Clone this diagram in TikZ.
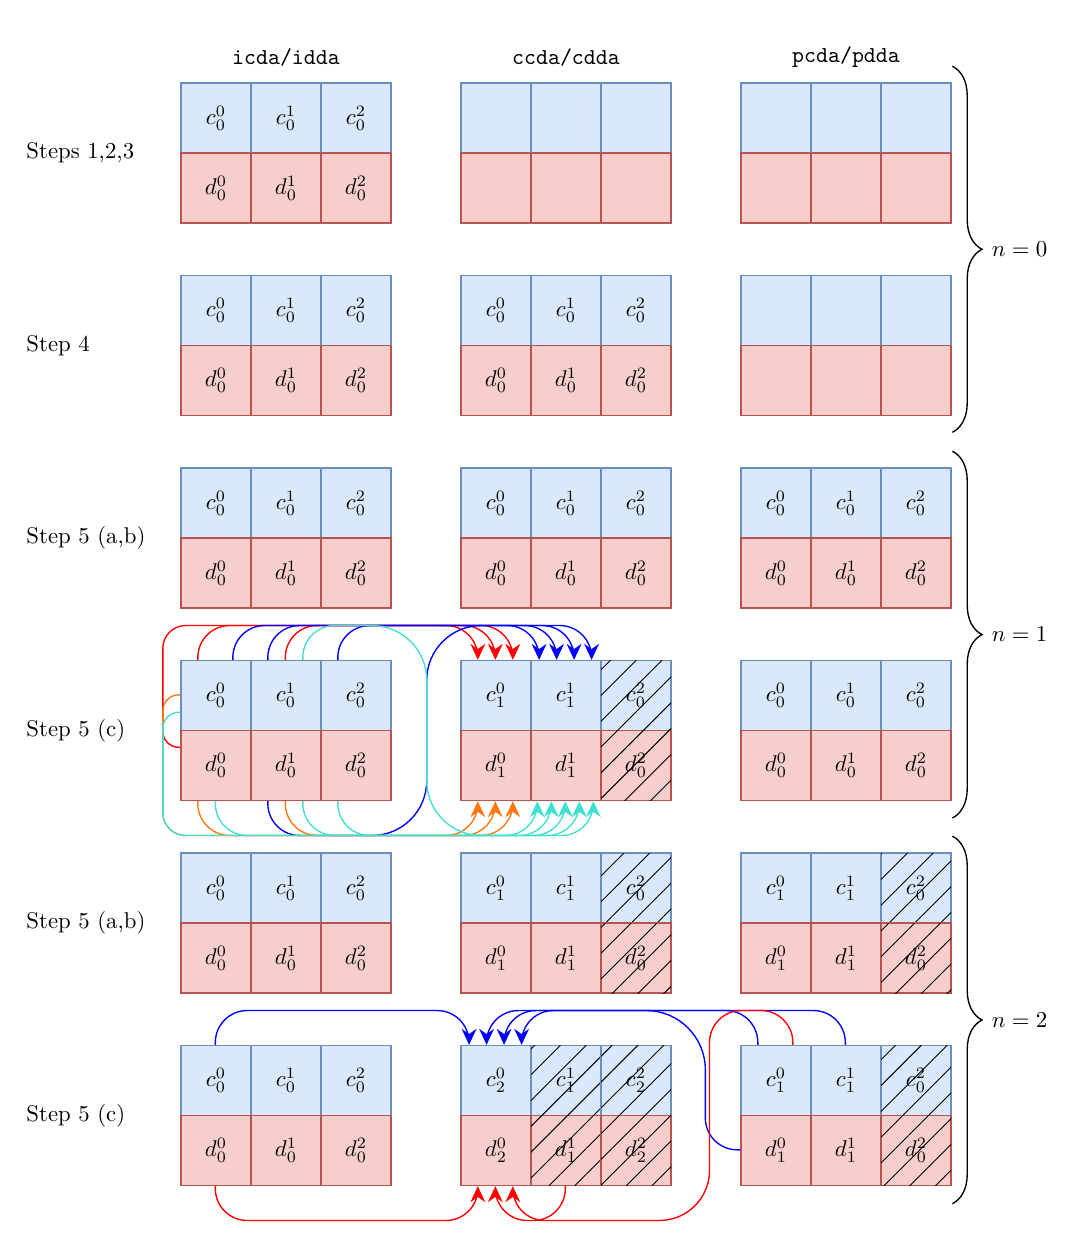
\documentclass[tikz,border=0pt]{standalone}
\usetikzlibrary{arrows.meta,calc,patterns.meta,decorations.pathreplacing}

\definecolor{cfill}{HTML}{DAE8FC}
\definecolor{cline}{HTML}{6C8EBF}
\definecolor{dfill}{HTML}{F8CECC}
\definecolor{dline}{HTML}{B85450}
\definecolor{cred}{RGB}{255,0,0}
\definecolor{cblue}{RGB}{0,0,255}
\definecolor{corange}{RGB}{255,120,20}
\definecolor{cturq}{RGB}{64,224,208}

\begin{document}
\begin{tikzpicture}[x=1.08cm, y=1.08cm,
    cell/.style={minimum width=1.08cm, minimum height=1.08cm, inner sep=0pt, line width=0.6pt},
    ctop/.style={cell, fill=cfill, draw=cline},
    dbot/.style={cell, fill=dfill, draw=dline},
    hatch/.code={\ifnum#1=1 \pgfkeysalso{postaction={pattern={Lines[angle=45,distance=8pt,line width=0.4pt]}}}\fi},
    flow/.style={line width=0.6pt, rounded corners=14pt, -{Stealth[length=7pt,width=6.5pt]}},
    nbrace/.style={decorate, decoration={brace, amplitude=13pt}, line width=0.6pt},
    steplabel/.style={anchor=west, inner sep=0pt},
    header/.style={font=\ttfamily},
    nlabel/.style={anchor=west}]
                \useasboundingbox (-2.586,1.186) rectangle (12.843,-16.6);

                % column headers
                \node[header] (hdri) at (1.5,.37) {icda/idda};
                \node[header] (hdrc) at (5.5,.37) {ccda/cdda};
                \node[header] (hdrp) at (9.5,.37) {pcda/pdda};

                % step labels
                \foreach \row/\txt in {0/{Steps 1,2,3}, 1/{Step 4}, 2/{Step 5 (a,b)}, 3/{Step 5 (c)}, 4/{Step 5 (a,b)}, 5/{Step 5 (c)}}
                    \node[steplabel] (step\row) at (-2.214,{-2.75*\row-1}) {\txt};

                % arrays: row/block/subscripts/hatched
                \foreach \row/\blk/\sA/\sB/\sC/\hB/\hC in {0/0/0/0/0/0/0, 0/1/x/x/x/0/0, 0/2/x/x/x/0/0,
                        1/0/0/0/0/0/0, 1/1/0/0/0/0/0, 1/2/x/x/x/0/0,
                        2/0/0/0/0/0/0, 2/1/0/0/0/0/0, 2/2/0/0/0/0/0,
                        3/0/0/0/0/0/0, 3/1/1/1/0/0/1, 3/2/0/0/0/0/0,
                        4/0/0/0/0/0/0, 4/1/1/1/0/0/1, 4/2/1/1/0/0/1,
                        5/0/0/0/0/0/0, 5/1/2/1/2/1/1, 5/2/1/1/0/0/1}
                    \foreach \pos/\sub/\hh in {0/\sA/0, 1/\sB/\hB, 2/\sC/\hC} {
                        \node[ctop, hatch=\hh] (c\row\blk\pos) at ({4*\blk+\pos+.5},{-2.75*\row-.5}) {\if\sub x\else$c^{\pos}_{\sub}$\fi};
                        \node[dbot, hatch=\hh] (d\row\blk\pos) at ({4*\blk+\pos+.5},{-2.75*\row-1.5}) {\if\sub x\else$d^{\pos}_{\sub}$\fi};
                    }

                % braces
                \draw[nbrace] (11.02,.24) -- (11.02,-4.99);
                \node[nlabel] (n0) at (11.47,-2.375) {$n=0$};
                \draw[nbrace] (11.02,-5.26) -- (11.02,-10.5);
                \node[nlabel] (n1) at (11.47,-7.88) {$n=1$};
                \draw[nbrace] (11.02,-10.76) -- (11.02,-16.01);
                \node[nlabel] (n2) at (11.47,-13.385) {$n=2$};

                % step 5 (c), n=1
                \draw[flow, cred, rounded corners=7pt] ($(d300.north west)+(0,-.25)$) -- ++(-.25,0) [rounded corners=10pt] -- ($(c300.north west)+(-.25,.49)$) [rounded corners=14pt] -- ($(c310.north west)+(.25,.49)$) -- ($(c310.north west)+(.25,0)$);
                \draw[flow, cred] ($(c300.north west)+(.25,0)$) -- ++(0,.49) -| ($(c310.north west)+(.5,0)$);
                \draw[flow, cred] ($(c301.north west)+(.5,0)$) -- ++(0,.49) -| ($(c310.north west)+(.75,0)$);
                \draw[flow, cblue] ($(c300.north west)+(.75,0)$) -- ++(0,.49) -| ($(c311.north west)+(.125,0)$);
                \draw[flow, cblue] ($(c301.north west)+(.25,0)$) -- ++(0,.49) -| ($(c311.north west)+(.375,0)$);
                \draw[flow, cblue] ($(c302.north west)+(.25,0)$) -- ++(0,.49) -| ($(c311.north west)+(.625,0)$);
                \draw[flow, cblue] ($(d301.south west)+(.25,0)$) -- ++(0,-.49) [rounded corners=24pt] -- ($(d302.south east)+(.5,-.49)$) -- ($(c302.north east)+(.5,.49)$) [rounded corners=14pt] -- ($(c311.north west)+(.875,.49)$) -- ($(c311.north west)+(.875,0)$);
                \draw[flow, corange, rounded corners=7pt] ($(c300.north west)+(0,-.5)$) -- ++(-.25,0) [rounded corners=10pt] -- ($(d300.south west)+(-.25,-.49)$) [rounded corners=14pt] -- ($(d310.south west)+(.25,-.49)$) -- ($(d310.south west)+(.25,0)$);
                \draw[flow, corange] ($(d300.south west)+(.25,0)$) -- ++(0,-.49) -| ($(d310.south west)+(.5,0)$);
                \draw[flow, corange] ($(d301.south west)+(.5,0)$) -- ++(0,-.49) -| ($(d310.south west)+(.75,0)$);
                \draw[flow, cturq, rounded corners=7pt] ($(c300.north west)+(0,-.75)$) -- ++(-.25,0) [rounded corners=10pt] -- ($(d300.south west)+(-.25,-.49)$) [rounded corners=14pt] -- ($(d311.south west)+(.1,-.49)$) -- ($(d311.south west)+(.1,0)$);
                \draw[flow, cturq] ($(d300.south west)+(.5,0)$) -- ++(0,-.49) -| ($(d311.south west)+(.3,0)$);
                \draw[flow, cturq] ($(c301.north west)+(.75,0)$) -- ++(0,.49) [rounded corners=24pt] -- ($(c302.north east)+(.5,.49)$) -- ($(d302.south east)+(.5,-.49)$) [rounded corners=14pt] -- ($(d311.south west)+(.5,-.49)$) -- ($(d311.south west)+(.5,0)$);
                \draw[flow, cturq] ($(d301.south west)+(.75,0)$) -- ++(0,-.49) -| ($(d311.south west)+(.7,0)$);
                \draw[flow, cturq] ($(d302.south west)+(.25,0)$) -- ++(0,-.49) -| ($(d311.south west)+(.9,0)$);

                % step 5 (c), n=2
                \draw[flow, cblue] ($(c500.north west)+(.5,0)$) -- ++(0,.49) -| ($(c510.north west)+(.125,0)$);
                \draw[flow, cblue] ($(c521.north west)+(.5,0)$) -- ++(0,.49) -| ($(c510.north west)+(.375,0)$);
                \draw[flow, cblue] ($(d520.north west)+(0,-.5)$) -- ++(-.5,0) [rounded corners=26pt] -- ($(c520.north west)+(-.5,.49)$) [rounded corners=14pt] -- ($(c510.north west)+(.625,.49)$) -- ($(c510.north west)+(.625,0)$);
                \draw[flow, cblue] ($(c520.north west)+(.25,0)$) -- ++(0,.49) -| ($(c510.north west)+(.875,0)$);
                \draw[flow, cred] ($(d500.south west)+(.5,0)$) -- ++(0,-.49) -| ($(d510.south west)+(.25,0)$);
                \draw[flow, cred] ($(d511.south west)+(.5,0)$) -- ++(0,-.49) -| ($(d510.south west)+(.5,0)$);
                \draw[flow, cred] ($(c520.north west)+(.75,0)$) -- ++(0,.49) -- ($(c520.north west)+(-.44,.49)$) [rounded corners=22pt] -- ($(d520.south west)+(-.44,-.49)$) [rounded corners=14pt] -- ($(d510.south west)+(.75,-.49)$) -- ($(d510.south west)+(.75,0)$);
\end{tikzpicture}
\end{document}
